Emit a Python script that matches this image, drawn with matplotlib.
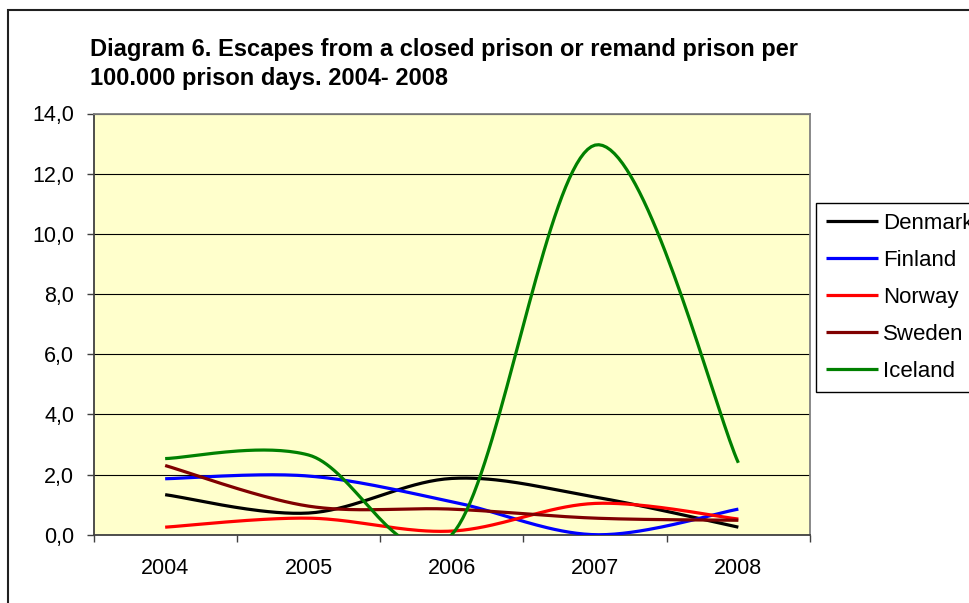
import numpy as np
import matplotlib
matplotlib.use("Agg")
import matplotlib.pyplot as plt
from matplotlib.patches import Rectangle
from matplotlib.ticker import FixedLocator, FuncFormatter

plt.rcParams['font.family'] = ['Liberation Sans', 'DejaVu Sans']

# data
years = ['2004', '2005', '2006', '2007', '2008']
denmark = [1.33, 0.72, 1.87, 1.25, 0.25]
finland = [1.86, 1.95, 1.10, 0.0, 0.85]
norway = [0.25, 0.55, 0.12, 1.04, 0.52]
sweden = [2.30, 0.95, 0.85, 0.55, 0.48]
iceland = [2.53, 2.65, 0.0, 12.95, 2.39]

names = ['Denmark', 'Finland', 'Norway', 'Sweden', 'Iceland']
colors = ['#000000', '#0000FF', '#FF0000', '#800000', '#008000']


def smooth(xs, ys, n=40):
    # Excel style smoothed line (Catmull-Rom / Bezier through the points)
    p = np.column_stack([xs, ys]).astype(float)
    ext = np.vstack([p[0], p, p[-1]])
    out = []
    for i in range(len(p) - 1):
        p0, p1 = ext[i + 1], ext[i + 2]
        m0 = (ext[i + 2] - ext[i]) / 2
        m1 = (ext[i + 3] - ext[i + 1]) / 2
        t = np.linspace(0, 1, n)[:, None]
        h00 = 2 * t**3 - 3 * t**2 + 1
        h10 = t**3 - 2 * t**2 + t
        h01 = -2 * t**3 + 3 * t**2
        h11 = t**3 - t**2
        seg = h00 * p0 + h10 * m0 + h01 * p1 + h11 * m1
        out.append(seg if i == 0 else seg[1:])
    out = np.vstack(out)
    return out[:, 0], out[:, 1]


W, H = 969, 603
fig = plt.figure(figsize=(W / 100, H / 100), dpi=100)

# outer chart border
fig.patches.append(Rectangle((8 / W, -0.01), 1.0, 1 - 10 / H + 0.01, transform=fig.transFigure,
                             fill=False, edgecolor='#202020', linewidth=1.5, clip_on=False))

ax = fig.add_axes([93.5 / W, 1 - 534.7 / H, (810 - 93.5) / W, (534.7 - 113.5) / H])
ax.set_facecolor('#FFFFCC')

x = np.arange(len(years))
series = [denmark, finland, norway, sweden, iceland]
for name, vals, c in zip(names, series, colors):
    sx, sy = smooth(x, vals)
    ax.plot(sx, sy, color=c, linewidth=2.3, label=name, solid_capstyle='butt', zorder=3)

ax.set_xlim(-0.5, len(years) - 0.5)
ax.set_ylim(0, 14)
ax.set_yticks(np.arange(0, 15, 2))
ax.yaxis.set_major_formatter(FuncFormatter(lambda v, p: f'{v:.1f}'.replace('.', ',')))
ax.grid(axis='y', color='black', linewidth=0.8)
ax.set_axisbelow(True)

ax.xaxis.set_major_locator(FixedLocator(np.arange(-0.5, len(years), 1.0)))
ax.xaxis.set_major_formatter(FuncFormatter(lambda v, p: ''))
ax.xaxis.set_minor_locator(FixedLocator(x))
ax.set_xticklabels(years, minor=True)
ax.tick_params(axis='x', which='major', length=5, width=1, color='#404040', direction='out')
ax.tick_params(axis='x', which='minor', length=0, pad=17, labelsize=15.5)
ax.tick_params(axis='y', length=5, width=1, color='#404040', pad=9, labelsize=15.5)

for s in ax.spines.values():
    s.set_color('#808080')
    s.set_linewidth(1.3)
ax.spines['left'].set_color('#404040')
ax.spines['bottom'].set_color('#404040')

fig.text(90 / W, 1 - 38 / H, 'Diagram 6. Escapes from a closed prison or remand prison per\n100.000 prison days. 2004- 2008',
         fontsize=17, fontweight='bold', va='top', ha='left', linespacing=1.35)

leg = ax.legend(loc='upper left', bbox_to_anchor=(816 / W, 1 - 202.7 / H), bbox_transform=fig.transFigure,
                borderaxespad=0, fontsize=16, handlelength=2.35, handletextpad=0.2,
                labelspacing=0.72, borderpad=0.45, fancybox=False, framealpha=1, edgecolor='black')
leg.get_frame().set_linewidth(1.0)
leg.set_clip_on(False)

fig.savefig('out.png', dpi=100)
